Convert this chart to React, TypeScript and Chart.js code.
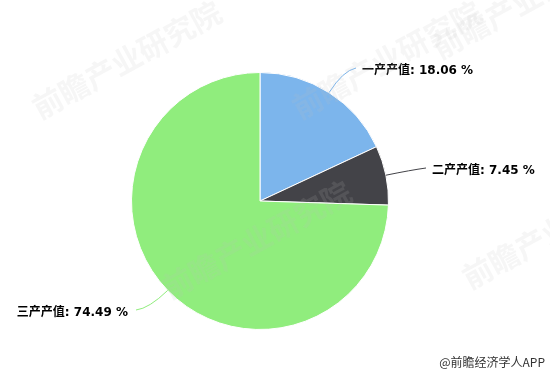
import React, { useEffect, useRef } from "react";
import { Chart, registerables } from "chart.js";

Chart.register(...registerables);

const categories = ["一产产值", "二产产值", "三产产值"];
const values = [18.06, 7.45, 74.49];
const colors = ["#7cb5ec", "#434348", "#90ed7d"];
const sourceText = "@前瞻经济学人APP";
const watermark = "前瞻产业研究院";

const labelPlugin = {
  id: "pieLabels",
  beforeDraw(chart: any) {
    const ctx = chart.ctx;
    ctx.save();
    ctx.fillStyle = "#ffffff";
    ctx.fillRect(0, 0, chart.width, chart.height);
    ctx.restore();
  },
  afterDraw(chart: any) {
    const ctx = chart.ctx;
    const meta = chart.getDatasetMeta(0);
    const labelPos = [
      { x: 362, y: 71, align: "left" },
      { x: 432, y: 171, align: "left" },
      { x: 128, y: 313, align: "right" },
    ];
    meta.data.forEach((arc: any, i: number) => {
      const mid = (arc.startAngle + arc.endAngle) / 2;
      const r = arc.outerRadius;
      const ex = arc.x + Math.cos(mid) * r;
      const ey = arc.y + Math.sin(mid) * r;
      const d = 26;
      const bx = arc.x + Math.cos(mid) * (r + d);
      const by = arc.y + Math.sin(mid) * (r + d);
      const lp = labelPos[i];
      const endX = lp.align === "left" ? lp.x - 6 : lp.x + 8;
      const endY = lp.y - 3;
      ctx.save();
      ctx.strokeStyle = colors[i];
      ctx.lineWidth = 1;
      ctx.beginPath();
      ctx.moveTo(ex, ey);
      ctx.quadraticCurveTo(bx, by, endX, endY);
      ctx.stroke();
      ctx.font = "bold 12px 'DejaVu Sans', 'Noto Sans CJK SC', sans-serif";
      ctx.fillStyle = "#000000";
      ctx.textAlign = lp.align;
      ctx.textBaseline = "middle";
      ctx.fillText(categories[i] + ": " + values[i].toFixed(2) + " %", lp.x, lp.y);
      ctx.restore();
    });

    // watermarks
    ctx.save();
    ctx.font = "bold 30px 'Noto Sans CJK SC', sans-serif";
    ctx.fillStyle = "rgba(190,190,190,0.14)";
    const marks = [
      [40, 120],
      [300, 120],
      [170, 300],
      [440, 60],
      [470, 290],
    ];
    marks.forEach(([x, y]) => {
      ctx.save();
      ctx.translate(x, y);
      ctx.rotate(-0.5);
      ctx.fillText(watermark, 0, 0);
      ctx.restore();
    });
    ctx.restore();

    ctx.save();
    ctx.font = "12px 'Noto Sans CJK SC', sans-serif";
    ctx.fillStyle = "#333333";
    ctx.textAlign = "right";
    ctx.textBaseline = "middle";
    ctx.fillText(sourceText, 545, 362);
    ctx.restore();
  },
};

export default function App() {
  const ref = useRef<HTMLCanvasElement>(null);
  useEffect(() => {
    if (!ref.current) return;
    const chart = new Chart(ref.current, {
      type: "pie",
      data: {
        labels: categories,
        datasets: [
          {
            data: values,
            backgroundColor: colors,
            borderColor: "#ffffff",
            borderWidth: 1,
          },
        ],
      },
      options: {
        responsive: false,
        animation: false,
        layout: { padding: { left: 131, right: 161, top: 72, bottom: 44 } },
        plugins: {
          legend: { display: false },
          tooltip: { enabled: false },
        },
      },
      plugins: [labelPlugin],
    });
    return () => chart.destroy();
  }, []);
  return (
    <div style={{ position: "absolute", left: 0, top: 0, width: 550, height: 374 }}>
      <canvas ref={ref} width={550} height={374} />
    </div>
  );
}
